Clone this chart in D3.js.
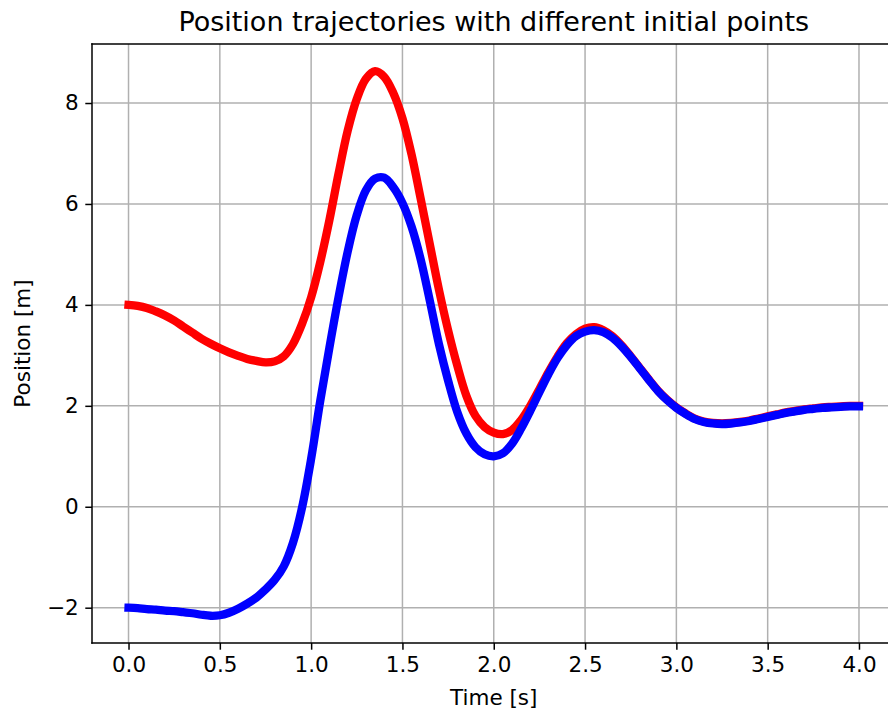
<!DOCTYPE html>
<html>
<head>
<meta charset="utf-8">
<script src="https://cdn.jsdelivr.net/npm/d3@7"></script>
<style>
  body { margin: 0; background: #fff; }
  svg { display: block; font-family: "DejaVu Sans", sans-serif; }
</style>
</head>
<body>
<svg id="chart"></svg>
<script>
const width = 888,
  height = 711;

// time samples [s]
const time = d3.range(0, 81).map(i => +(i * 0.05).toFixed(2));

// trajectory starting at x0 = 4
const posRed = [
  4.00, 3.98, 3.94, 3.87, 3.79, 3.69, 3.57, 3.45, 3.33, 3.23,
  3.14, 3.06, 2.99, 2.93, 2.89, 2.86, 2.88, 2.98, 3.22, 3.62,
  4.15, 4.85, 5.68, 6.60, 7.45, 8.08, 8.48, 8.63, 8.52, 8.20,
  7.70, 6.98, 6.10, 5.20, 4.30, 3.50, 2.80, 2.20, 1.80, 1.58,
  1.47, 1.44, 1.52, 1.72, 2.00, 2.33, 2.67, 2.98, 3.24, 3.42,
  3.53, 3.56, 3.50, 3.38, 3.20, 2.98, 2.75, 2.52, 2.30, 2.12,
  1.97, 1.85, 1.75, 1.69, 1.66, 1.65, 1.66, 1.68, 1.71, 1.75,
  1.79, 1.83, 1.87, 1.90, 1.93, 1.95, 1.97, 1.98, 1.99, 2.00,
  2.00
];

// trajectory starting at x0 = -2
const posBlue = [
  -2.00, -2.01, -2.03, -2.04, -2.06, -2.07, -2.09, -2.11, -2.14, -2.16,
  -2.15, -2.10, -2.02, -1.92, -1.80, -1.64, -1.45, -1.18, -0.72, -0.02,
  0.95, 2.10, 3.15, 4.15, 5.05, 5.78, 6.27, 6.50, 6.52, 6.33,
  6.02, 5.55, 4.90, 4.08, 3.22, 2.50, 1.88, 1.45, 1.18, 1.04,
  1.00, 1.06, 1.25, 1.55, 1.90, 2.27, 2.63, 2.95, 3.20, 3.38,
  3.47, 3.50, 3.46, 3.35, 3.18, 2.97, 2.74, 2.51, 2.29, 2.11,
  1.96, 1.84, 1.74, 1.68, 1.65, 1.64, 1.65, 1.67, 1.70, 1.74,
  1.78, 1.82, 1.86, 1.89, 1.92, 1.94, 1.96, 1.97, 1.98, 1.99,
  1.99
];

const xTicks = [0, 0.5, 1, 1.5, 2, 2.5, 3, 3.5, 4];
const yTicks = [-2, 0, 2, 4, 6, 8];

const series = [
  { name: "x0 = 4", values: posRed, color: "#ff0000" },
  { name: "x0 = -2", values: posBlue, color: "#0000ff" }
];

const margin = { top: 44, right: -7.5, bottom: 68, left: 92 };
const iw = width - margin.left - margin.right,
  ih = height - margin.top - margin.bottom;

const svg = d3
  .select("#chart")
  .attr("width", width)
  .attr("height", height);

// matplotlib style 5% margins
const xExt = d3.extent(time);
const xPad = (xExt[1] - xExt[0]) * 0.05;
const allY = posRed.concat(posBlue);
const yExt = d3.extent(allY);
const yPad = (yExt[1] - yExt[0]) * 0.05;

const x = d3
  .scaleLinear()
  .domain([xExt[0] - xPad, xExt[1] + xPad])
  .range([0, iw]);
const y = d3
  .scaleLinear()
  .domain([yExt[0] - yPad, yExt[1] + yPad])
  .range([ih, 0]);

const g = svg
  .append("g")
  .attr("transform", `translate(${margin.left},${margin.top})`);

// grid
g.append("g")
  .selectAll("line")
  .data(xTicks)
  .enter()
  .append("line")
  .attr("x1", d => x(d))
  .attr("x2", d => x(d))
  .attr("y1", 0)
  .attr("y2", ih)
  .style("stroke", "#b0b0b0")
  .style("stroke-width", 1.5);

g.append("g")
  .selectAll("line")
  .data(yTicks)
  .enter()
  .append("line")
  .attr("x1", 0)
  .attr("x2", iw)
  .attr("y1", d => y(d))
  .attr("y2", d => y(d))
  .style("stroke", "#b0b0b0")
  .style("stroke-width", 1.5);

// lines
const line = d3
  .line()
  .x((d, i) => x(time[i]))
  .y(d => y(d))
  .curve(d3.curveCatmullRom);

g.append("g")
  .selectAll("path")
  .data(series)
  .enter()
  .append("path")
  .attr("d", d => line(d.values))
  .style("fill", "none")
  .style("stroke", d => d.color)
  .style("stroke-width", 8.3)
  .style("stroke-linecap", "square")
  .style("stroke-linejoin", "round");

// axes
const fmtX = d3.format(".1f");
const fmtY = d => (d < 0 ? "\u2212" + Math.abs(d) : String(d));

const xAxis = g
  .append("g")
  .attr("transform", `translate(0,${ih})`)
  .call(
    d3
      .axisBottom(x)
      .tickValues(xTicks)
      .tickFormat(fmtX)
      .tickSizeInner(6.7)
      .tickSizeOuter(0)
      .tickPadding(6.7)
  );

const yAxis = g.append("g").call(
  d3
    .axisLeft(y)
    .tickValues(yTicks)
    .tickFormat(fmtY)
    .tickSizeInner(6.7)
    .tickSizeOuter(0)
    .tickPadding(6.7)
);

[xAxis, yAxis].forEach(a => {
  a.select(".domain").remove();
  a.selectAll(".tick line").style("stroke", "#000").style("stroke-width", 1.5);
  a.selectAll(".tick text")
    .style("font-size", "21.5px")
    .style("font-family", "DejaVu Sans")
    .style("fill", "#000");
});

// spines
const spine = (x1, y1, x2, y2) =>
  g.append("line")
    .attr("x1", x1).attr("y1", y1)
    .attr("x2", x2).attr("y2", y2)
    .style("stroke", "#000")
    .style("stroke-width", 1.5)
    .style("stroke-linecap", "square");
spine(0, 0, iw, 0);
spine(0, ih, iw, ih);
spine(0, 0, 0, ih);
spine(iw, 0, iw, ih);

// labels
svg.append("text")
  .attr("x", margin.left + iw / 2)
  .attr("y", 31)
  .attr("text-anchor", "middle")
  .style("font-size", "27px")
  .text("Position trajectories with different initial points");

svg.append("text")
  .attr("x", margin.left + iw / 2)
  .attr("y", 705)
  .attr("text-anchor", "middle")
  .style("font-size", "21.5px")
  .text("Time [s]");

svg.append("text")
  .attr("transform", `translate(30,${margin.top + ih / 2}) rotate(-90)`)
  .attr("text-anchor", "middle")
  .style("font-size", "21.5px")
  .text("Position [m]");
</script>
</body>
</html>
